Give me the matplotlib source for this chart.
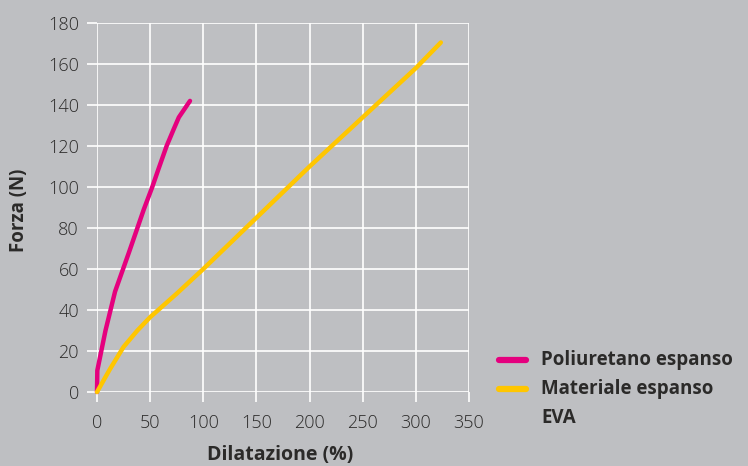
import matplotlib.pyplot as plt
from matplotlib.lines import Line2D

# Data
pu_x = [0, 0.3, 8, 17, 30, 44, 52, 58, 65.5, 72, 77, 87.5]
pu_y = [0, 10.5, 30, 49, 68, 89, 100, 109, 120, 128, 134, 142]
eva_x = [0, 12, 25, 38, 50, 75, 100, 150, 200, 250, 300, 323.5]
eva_y = [0, 11, 22, 30, 36.5, 48, 60, 85, 110, 134, 158, 170.5]

series_labels = ["Poliuretano espanso", "Materiale espanso", "EVA"]
x_ticks = [0, 50, 100, 150, 200, 250, 300, 350]
y_ticks = [0, 20, 40, 60, 80, 100, 120, 140, 160, 180]

bg = "#bebfc2"
pink = "#e5007e"
yellow = "#ffc600"
text_col = "#2b2a29"

plt.rcParams["font.family"] = ["Open Sans", "DejaVu Sans"]

fig = plt.figure(figsize=(7.48, 4.66), dpi=100, facecolor=bg)
ax = fig.add_axes([97 / 748, 1 - 392 / 466, 372 / 748, 369 / 466])
ax.set_facecolor(bg)

ax.plot(pu_x, pu_y, color=pink, lw=3.2, solid_capstyle="round", clip_on=False, zorder=3)
ax.plot(eva_x, eva_y, color=yellow, lw=3.2, solid_capstyle="round", clip_on=False, zorder=3)

ax.set_xlim(0, 350)
ax.set_ylim(0, 180)
ax.set_xticks(x_ticks)
ax.set_yticks(y_ticks)
ax.grid(True, color="white", lw=1.2)
for s in ax.spines.values():
    s.set_visible(False)
ax.tick_params(colors="white", length=7, width=1.2, labelcolor=text_col, labelsize=13)
ax.tick_params(axis="x", pad=9)
ax.tick_params(axis="y", pad=6)
for t in ax.get_xticklabels() + ax.get_yticklabels():
    t.set_fontweight("light")

# axis titles placed in figure pixels
fig.text(280 / 748, 1 - 455 / 466, "Dilatazione (%)", fontsize=14, fontweight="bold",
         color=text_col, ha="center", va="center")
fig.text(19 / 748, 1 - 210 / 466, "Forza (N)", fontsize=13.5, fontweight="bold",
         color=text_col, ha="center", va="center", rotation=90)

# legend drawn by hand to match spacing
leg_rows = [(360, 0, pink), (389, 1, yellow), (418, 2, None)]
for y_px, i, col in leg_rows:
    yf = 1 - y_px / 466
    if col is not None:
        fig.add_artist(Line2D([499 / 748, 526 / 748], [yf, yf], color=col, lw=4.5,
                              solid_capstyle="round"))
    fig.text(541 / 748, yf, series_labels[i], fontsize=13.5, fontweight="bold",
             color=text_col, va="center", ha="left")

fig.savefig("out.png", dpi=100, facecolor=bg)
